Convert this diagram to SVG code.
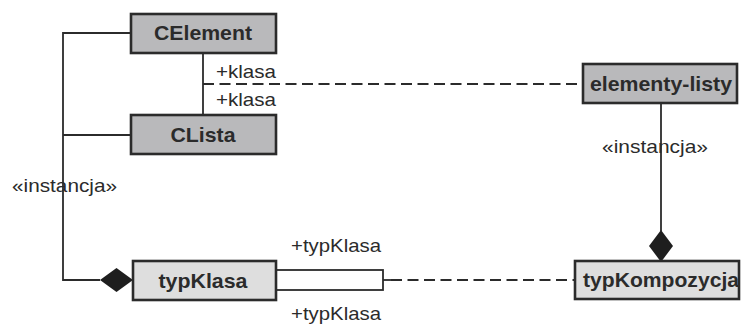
<svg xmlns="http://www.w3.org/2000/svg" width="741" height="324" viewBox="0 0 741 324">
  <style>
    .box { stroke: #2b2b2b; stroke-width: 2.6; }
    .dark { fill: #b9b9bb; }
    .light { fill: #dedede; }
    .name { font-family: "Liberation Sans", Arial, sans-serif; font-weight: bold; font-size: 20.5px; fill: #2b2b2b; text-anchor: middle; }
    .lbl { font-family: "Liberation Sans", Arial, sans-serif; font-size: 19px; fill: #2b2b2b; }
    .line { stroke: #2b2b2b; stroke-width: 1.8; fill: none; }
    .dash { stroke-dasharray: 11 5.5; }
    .diamond { fill: #1e1e1e; }
  </style>
  <rect width="741" height="324" fill="#ffffff"/>

  <g id="connectors">
    <!-- instance links on the left -->
    <polyline class="line" points="131,33 63,33 63,280 100,280"/>
    <line class="line" x1="63" y1="135" x2="131" y2="135"/>
    <!-- CElement to CLista -->
    <line class="line" x1="203" y1="53" x2="203" y2="115"/>
    <!-- dashed link to elementy-listy -->
    <line class="line dash" x1="203" y1="84" x2="583" y2="84"/>
    <!-- elementy-listy to typKompozycja -->
    <line class="line" x1="661" y1="103" x2="661" y2="231"/>
    <polygon class="diamond" points="661,230 673,246 661,262 649,246"/>
    <polygon class="diamond" points="100,280 116.5,268 133,280 116.5,292"/>
    <!-- typKlasa association -->
    <rect class="line" x="276" y="270" width="107" height="20" fill="#ffffff"/>
    <line class="line" x1="383" y1="280" x2="391" y2="280"/>
    <line class="line dash" x1="391" y1="280" x2="575" y2="280"/>
    <!-- role and stereotype labels -->
    <text class="lbl" x="216" y="78" textLength="60" lengthAdjust="spacingAndGlyphs">+klasa</text>
    <text class="lbl" x="216" y="106" textLength="60" lengthAdjust="spacingAndGlyphs">+klasa</text>
    <text class="lbl" x="12" y="192" textLength="105" lengthAdjust="spacingAndGlyphs">«instancja»</text>
    <text class="lbl" x="602" y="153" textLength="106" lengthAdjust="spacingAndGlyphs">«instancja»</text>
    <text class="lbl" x="291" y="252" textLength="90" lengthAdjust="spacingAndGlyphs">+typKlasa</text>
    <text class="lbl" x="291" y="320" textLength="90" lengthAdjust="spacingAndGlyphs">+typKlasa</text>
  </g>

  <g id="CElement">
    <rect class="box dark" x="131" y="14" width="145" height="39"/>
    <text class="name" x="203" y="40" textLength="98" lengthAdjust="spacingAndGlyphs">CElement</text>
  </g>
  <g id="CLista">
    <rect class="box dark" x="131" y="115" width="145" height="39"/>
    <text class="name" x="203" y="142" textLength="65" lengthAdjust="spacingAndGlyphs">CLista</text>
  </g>
  <g id="elementy-listy">
    <rect class="box dark" x="583" y="64" width="154" height="39"/>
    <text class="name" x="661" y="91" textLength="142" lengthAdjust="spacingAndGlyphs">elementy-listy</text>
  </g>
  <g id="typKlasa">
    <rect class="box light" x="133" y="261" width="143" height="39"/>
    <text class="name" x="203" y="288" textLength="89" lengthAdjust="spacingAndGlyphs">typKlasa</text>
  </g>
  <g id="typKompozycja">
    <rect class="box light" x="575" y="261" width="164" height="38"/>
    <text class="name" x="661" y="287" textLength="156" lengthAdjust="spacingAndGlyphs">typKompozycja</text>
  </g>
</svg>
